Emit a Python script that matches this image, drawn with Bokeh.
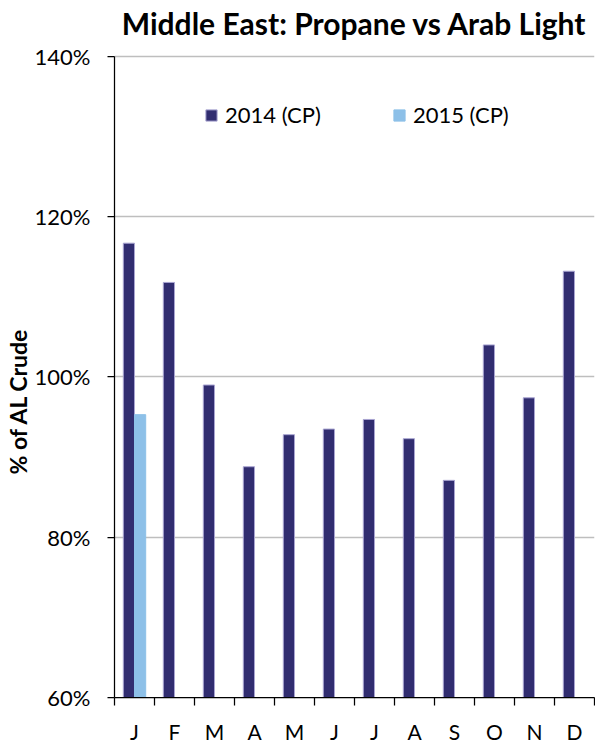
from bokeh.plotting import figure
from bokeh.models import (ColumnDataSource, FixedTicker, Legend, LegendItem,
                          Range1d, Title)
from bokeh.transform import dodge
from bokeh.embed import file_html
from bokeh.resources import INLINE

# ---- data ----
months = ["J", "F", "M", "A", "M", "J", "J", "A", "S", "O", "N", "D"]
cp_2014 = [116.7, 111.8, 99.0, 88.8, 92.8, 93.5, 94.7, 92.3, 87.1, 104.0, 97.4, 113.2]
cp_2015 = [95.3]
series_names = ["2014 (CP)", "2015 (CP)"]
y_ticks = [60, 80, 100, 120, 140]
y_tick_labels = ["60%", "80%", "100%", "120%", "140%"]
title_text = "Middle East: Propane vs Arab Light"
y_title = "% of AL Crude"

DARK = "#312D70"
LIGHT = "#8DC0E8"
FONT = "Lato"

# frame runs 16px above the 140% line so the title can sit higher
Y_MIN, Y_MAX = 60, 140
Y_TOP = Y_MAX + 16 * (Y_MAX - Y_MIN) / 642.0

centers = [i + 0.5 for i in range(len(months))]
src14 = ColumnDataSource(dict(x=centers, y=cp_2014))
src15 = ColumnDataSource(dict(x=centers[:len(cp_2015)], y=cp_2015))

p = figure(width=595, height=746, output_backend="svg", toolbar_location=None,
           x_range=Range1d(0, 12), y_range=Range1d(Y_MIN, Y_TOP),
           min_border_left=114, min_border_right=1, min_border_top=40,
           min_border_bottom=48)
p.outline_line_color = None
p.background_fill_color = "white"
p.border_fill_color = "white"

p.title.text = title_text
p.title.text_font = FONT
p.title.text_font_size = "30px"
p.title.text_font_style = "bold"
p.title.align = "center"
p.title.text_color = "black"
p.title.standoff = 0

bw = 0.28
r14 = p.vbar(x=dodge("x", -bw / 2, range=p.x_range), top="y", bottom=Y_MIN, width=bw,
             source=src14, fill_color=DARK, line_color="#A9A5D2", line_width=1)
r15 = p.vbar(x=dodge("x", bw / 2, range=p.x_range), top="y", bottom=Y_MIN, width=bw,
             source=src15, fill_color=LIGHT, line_color=LIGHT, line_width=1)

# x axis: labels at category centres, ticks at category boundaries
xa = p.xaxis[0]
xa.ticker = FixedTicker(ticks=centers, minor_ticks=list(range(len(months) + 1)))
xa.major_label_overrides = {c: m for c, m in zip(centers, months)}
xa.major_tick_out = 0
xa.major_tick_in = 0
xa.minor_tick_out = 8
xa.minor_tick_in = 0
xa.minor_tick_line_color = "black"
xa.minor_tick_line_width = 1.25
xa.axis_line_color = "black"
xa.axis_line_width = 1.25
xa.major_label_text_font = FONT
xa.major_label_text_font_size = "21px"
xa.major_label_text_color = "black"
xa.major_label_standoff = 13

ya = p.yaxis[0]
ya.ticker = FixedTicker(ticks=y_ticks, minor_ticks=[])
ya.bounds = (Y_MIN, Y_MAX)
ya.major_label_overrides = {t: l for t, l in zip(y_ticks, y_tick_labels)}
ya.major_tick_out = 7
ya.major_tick_in = 0
ya.major_tick_line_color = "black"
ya.major_tick_line_width = 1.25
ya.axis_line_color = "black"
ya.axis_line_width = 1.25
ya.major_label_text_font = FONT
ya.major_label_text_font_size = "22px"
ya.major_label_text_color = "black"
ya.major_label_standoff = 17

p.xgrid.grid_line_color = None
p.ygrid.grid_line_color = "#BEBEBE"
p.ygrid.grid_line_width = 1.5
p.ygrid.ticker = FixedTicker(ticks=y_ticks)

ytitle = Title(text=y_title, align="left", offset=223, standoff=0,
               text_font=FONT, text_font_size="23px", text_font_style="bold",
               text_color="black")
p.add_layout(ytitle, "left")

legend = Legend(items=[LegendItem(label=series_names[0], renderers=[r14]),
                       LegendItem(label=series_names[1], renderers=[r15])],
                orientation="horizontal", location=(90, 569),
                border_line_color=None, background_fill_alpha=0,
                padding=0, margin=0, spacing=71,
                glyph_width=14, glyph_height=14, label_standoff=7,
                label_text_font=FONT, label_text_font_size="22px",
                label_text_color="black")
p.add_layout(legend)

open("out.html", "w").write(file_html(p, INLINE))
